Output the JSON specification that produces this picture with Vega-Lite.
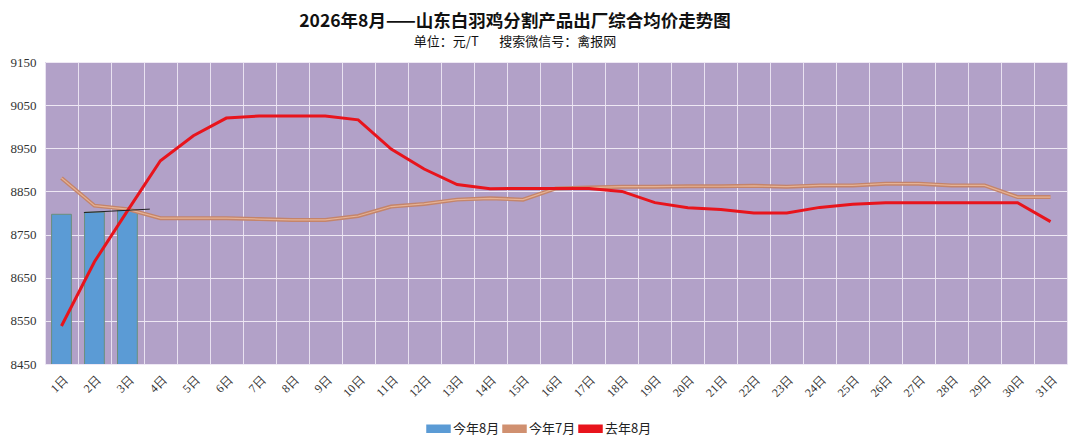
{
  "$schema": "https://vega.github.io/schema/vega-lite/v6.json",
  "width": 1022,
  "height": 302,
  "autosize": "none",
  "padding": {"left": 45, "top": 62, "right": 13, "bottom": 83},
  "background": "white",
  "title": {
    "text": "2026年8月——山东白羽鸡分割产品出厂综合均价走势图",
    "subtitle": "单位：元/T\u00a0\u00a0\u00a0\u00a0\u00a0\u00a0\u00a0搜索微信号：禽报网",
    "anchor": "middle",
    "dx": -41,
    "offset": 7,
    "font": "Noto Sans CJK SC",
    "fontSize": 17.5,
    "fontWeight": "bold",
    "color": "#111111",
    "subtitleFont": "Noto Sans CJK SC",
    "subtitleFontSize": 13,
    "subtitleColor": "#111111",
    "subtitlePadding": 6
  },
  "datasets": {
    "prices": [
      {"day": "1日", "series": "今年8月", "value": 8797},
      {"day": "2日", "series": "今年8月", "value": 8802},
      {"day": "3日", "series": "今年8月", "value": 8807},
      {"day": "1日", "series": "今年7月", "value": 8881},
      {"day": "2日", "series": "今年7月", "value": 8817},
      {"day": "3日", "series": "今年7月", "value": 8809},
      {"day": "4日", "series": "今年7月", "value": 8788},
      {"day": "5日", "series": "今年7月", "value": 8788},
      {"day": "6日", "series": "今年7月", "value": 8788},
      {"day": "7日", "series": "今年7月", "value": 8786},
      {"day": "8日", "series": "今年7月", "value": 8784},
      {"day": "9日", "series": "今年7月", "value": 8784},
      {"day": "10日", "series": "今年7月", "value": 8793},
      {"day": "11日", "series": "今年7月", "value": 8815},
      {"day": "12日", "series": "今年7月", "value": 8821},
      {"day": "13日", "series": "今年7月", "value": 8831},
      {"day": "14日", "series": "今年7月", "value": 8834},
      {"day": "15日", "series": "今年7月", "value": 8831},
      {"day": "16日", "series": "今年7月", "value": 8857},
      {"day": "17日", "series": "今年7月", "value": 8859},
      {"day": "18日", "series": "今年7月", "value": 8861},
      {"day": "19日", "series": "今年7月", "value": 8861},
      {"day": "20日", "series": "今年7月", "value": 8862},
      {"day": "21日", "series": "今年7月", "value": 8862},
      {"day": "22日", "series": "今年7月", "value": 8863},
      {"day": "23日", "series": "今年7月", "value": 8861},
      {"day": "24日", "series": "今年7月", "value": 8864},
      {"day": "25日", "series": "今年7月", "value": 8864},
      {"day": "26日", "series": "今年7月", "value": 8868},
      {"day": "27日", "series": "今年7月", "value": 8868},
      {"day": "28日", "series": "今年7月", "value": 8864},
      {"day": "29日", "series": "今年7月", "value": 8864},
      {"day": "30日", "series": "今年7月", "value": 8837},
      {"day": "31日", "series": "今年7月", "value": 8837},
      {"day": "1日", "series": "去年8月", "value": 8538},
      {"day": "2日", "series": "去年8月", "value": 8687},
      {"day": "3日", "series": "去年8月", "value": 8805},
      {"day": "4日", "series": "去年8月", "value": 8921},
      {"day": "5日", "series": "去年8月", "value": 8979},
      {"day": "6日", "series": "去年8月", "value": 9020},
      {"day": "7日", "series": "去年8月", "value": 9025},
      {"day": "8日", "series": "去年8月", "value": 9025},
      {"day": "9日", "series": "去年8月", "value": 9025},
      {"day": "10日", "series": "去年8月", "value": 9016},
      {"day": "11日", "series": "去年8月", "value": 8948},
      {"day": "12日", "series": "去年8月", "value": 8902},
      {"day": "13日", "series": "去年8月", "value": 8866},
      {"day": "14日", "series": "去年8月", "value": 8856},
      {"day": "15日", "series": "去年8月", "value": 8857},
      {"day": "16日", "series": "去年8月", "value": 8857},
      {"day": "17日", "series": "去年8月", "value": 8857},
      {"day": "18日", "series": "去年8月", "value": 8850},
      {"day": "19日", "series": "去年8月", "value": 8824},
      {"day": "20日", "series": "去年8月", "value": 8812},
      {"day": "21日", "series": "去年8月", "value": 8808},
      {"day": "22日", "series": "去年8月", "value": 8800},
      {"day": "23日", "series": "去年8月", "value": 8800},
      {"day": "24日", "series": "去年8月", "value": 8813},
      {"day": "25日", "series": "去年8月", "value": 8820},
      {"day": "26日", "series": "去年8月", "value": 8824},
      {"day": "27日", "series": "去年8月", "value": 8824},
      {"day": "28日", "series": "去年8月", "value": 8824},
      {"day": "29日", "series": "去年8月", "value": 8824},
      {"day": "30日", "series": "去年8月", "value": 8824},
      {"day": "31日", "series": "去年8月", "value": 8780}
    ],
    "trend": [
      {"day": "2日", "value": 8801},
      {"day": "4日", "value": 8809}
    ]
  },
  "data": {"name": "prices"},
  "encoding": {
    "x": {
      "field": "day",
      "type": "nominal",
      "sort": null,
      "title": null,
      "scale": {
        "domain": ["1日","2日","3日","4日","5日","6日","7日","8日","9日","10日","11日","12日","13日","14日","15日","16日","17日","18日","19日","20日","21日","22日","23日","24日","25日","26日","27日","28日","29日","30日","31日"],
        "paddingInner": 0,
        "paddingOuter": 0
      },
      "axis": {
        "labelAngle": 315,
        "encode": {"labels": {"update": {"angle": {"value": -45}, "align": {"value": "right"}, "baseline": {"value": "middle"}}}}
      }
    },
    "y": {
      "field": "value",
      "type": "quantitative",
      "title": null,
      "scale": {"domain": [8450, 9150], "zero": false, "nice": false},
      "axis": {"values": [8450, 8550, 8650, 8750, 8850, 8950, 9050, 9150], "format": "d"}
    }
  },
  "layer": [
    {
      "transform": [{"filter": "datum.series === '今年8月'"}],
      "mark": {"type": "bar", "width": {"band": 0.6}, "stroke": "#6b8f7c", "strokeWidth": 1, "clip": true},
      "encoding": {
        "color": {
          "field": "series",
          "type": "nominal",
          "scale": {
            "domain": ["今年8月", "今年7月", "去年8月"],
            "range": ["#5b9bd5", "#d09070", "#e8141c"]
          },
          "legend": {
            "title": null,
            "orient": "none",
            "direction": "horizontal",
            "legendX": 381,
            "legendY": 354,
            "labelFont": "Noto Sans CJK SC",
            "labelFontSize": 13,
            "labelColor": "#222222",
            "labelOffset": 2,
            "columnPadding": 0,
            "symbolSize": 529,
            "symbolType": "M-1,-0.3H1V0.3H-1Z",
            "encode": {
              "symbols": {
                "update": {
                  "shape": {"signal": "datum.value === '今年8月' ? 'M-1,-0.3H1V0.3H-1Z' : 'stroke'"},
                  "fill": {"signal": "datum.value === '今年8月' ? '#5b9bd5' : 'transparent'"},
                  "stroke": {"signal": "datum.value === '今年8月' ? '#6b8f7c' : (datum.value === '今年7月' ? '#e2a47f' : '#e8141c')"},
                  "strokeWidth": {"signal": "datum.value === '今年8月' ? 1 : 3"},
                  "opacity": {"value": 1}
                }
              }
            }
          }
        }
      }
    },
    {
      "transform": [{"filter": "datum.series === '今年7月'"}],
      "mark": {"type": "line", "color": "#c4846a", "strokeWidth": 4},
      "encoding": {}
    },
    {
      "transform": [{"filter": "datum.series === '今年7月'"}],
      "mark": {"type": "line", "color": "#e6b294", "strokeWidth": 1.2},
      "encoding": {}
    },
    {
      "transform": [{"filter": "datum.series === '去年8月'"}],
      "mark": {"type": "line", "strokeWidth": 3},
      "encoding": {
        "color": {"field": "series", "type": "nominal"}
      }
    },
    {
      "data": {"name": "trend"},
      "mark": {"type": "line", "color": "#222222", "strokeWidth": 1},
      "encoding": {
        "x": {"field": "day", "type": "nominal", "bandPosition": 0.18}
      }
    }
  ],
  "config": {
    "view": {"fill": "#b2a1c8", "stroke": null},
    "font": "Noto Sans CJK SC",
    "axisX": {
      "labelPadding": 10,
      "labelFont": "Liberation Serif",
      "labelFontSize": 12,
      "labelColor": "#333333",
      "ticks": false,
      "domain": false,
      "grid": true,
      "tickBand": "extent",
      "gridColor": "#e9e2f1",
      "gridWidth": 1
    },
    "axisY": {
      "labelFont": "Liberation Serif",
      "labelFontSize": 13,
      "labelColor": "#333333",
      "labelPadding": 9,
      "ticks": false,
      "domain": false,
      "gridColor": "#eee8f4",
      "gridWidth": 1.2
    }
  }
}
